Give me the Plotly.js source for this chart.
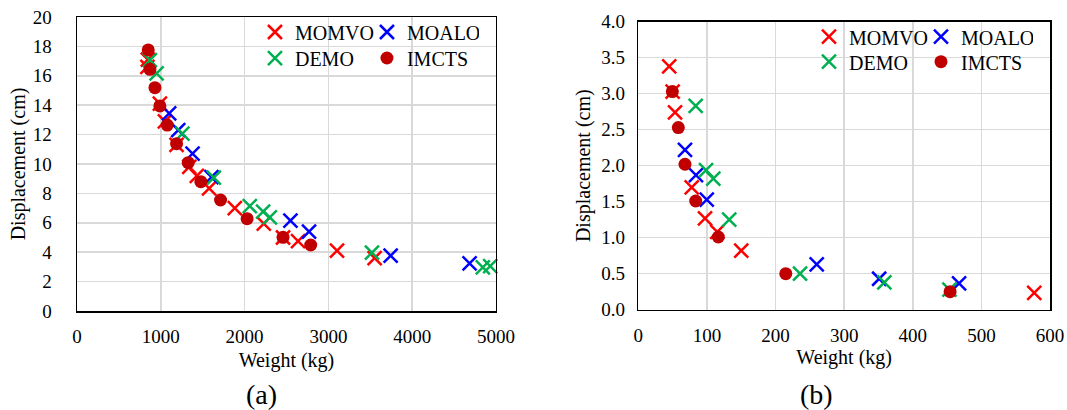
<!DOCTYPE html>
<html>
<head>
<meta charset="utf-8">
<script src="https://cdn.plot.ly/plotly-3.0.1.min.js"></script>
<style>html,body{margin:0;padding:0;background:#fff;}#chart{width:1067px;height:410px;}</style>
</head>
<body>
<div id="chart"></div>
<script>
// ---- Data: panel (a) ----
const momvoA_x = [845, 840, 989, 1049, 1188, 1340, 1430, 1577, 1883, 2229, 2459, 2638, 3103, 3552];
const momvoA_y = [17.1, 16.6, 14.1, 12.9, 11.3, 9.8, 9.2, 8.35, 7.0, 5.95, 5.0, 4.75, 4.1, 3.6];
const moaloA_x = [1100, 1208, 1379, 1605, 2547, 2769, 3743, 4685];
const moaloA_y = [13.45, 12.3, 10.7, 9.1, 6.14, 5.4, 3.76, 3.24];
const demoA_x = [870, 950, 1258, 1633, 2062, 2221, 2301, 3520, 4843, 4931];
const demoA_y = [17.07, 16.17, 12.06, 9.08, 7.14, 6.76, 6.37, 3.97, 2.97, 3.06];
const imctsA_x = [850, 870, 930, 989, 1077, 1188, 1327, 1478, 1713, 2030, 2459, 2789];
const imctsA_y = [17.76, 16.44, 15.19, 13.95, 12.65, 11.38, 10.09, 8.8, 7.55, 6.28, 5.01, 4.49];

// ---- Data: panel (b) ----
const momvoB_x = [45, 50, 53.5, 77.8, 97.2, 115, 150, 577];
const momvoB_y = [3.38, 3.03, 2.74, 1.70, 1.27, 1.08, 0.82, 0.235];
const moaloB_x = [68, 84, 99.7, 260, 351, 467.5];
const moaloB_y = [2.22, 1.87, 1.53, 0.63, 0.43, 0.365];
const demoB_x = [83.6, 98.7, 109.3, 132.5, 235.7, 358.6, 453.4];
const demoB_y = [2.83, 1.94, 1.82, 1.25, 0.50, 0.38, 0.28];
const imctsB_x = [49.6, 58.3, 68, 83.6, 116.6, 214.9, 454.4];
const imctsB_y = [3.03, 2.53, 2.02, 1.51, 1.01, 0.50, 0.25];

const seriesNames = ['MOMVO', 'MOALO', 'DEMO', 'IMCTS'];
const xTitle = 'Weight (kg)';
const yTitle = 'Displacement (cm)';
const panelLabels = ['(a)', '(b)'];

const FONT = 'Liberation Serif';
const colors = {MOMVO: '#FF0000', MOALO: '#0000FF', DEMO: '#00B050', IMCTS: '#C00000'};

function xTrace(name, xs, ys, xa, ya, legend) {
  return {
    type: 'scatter', mode: 'markers', name: name, x: xs, y: ys, xaxis: xa, yaxis: ya,
    legend: legend, cliponaxis: false, hoverinfo: 'skip',
    marker: {symbol: 'x-thin-open', size: 14, color: colors[name], line: {width: 2.5, color: colors[name]}}
  };
}
function dotTrace(name, xs, ys, xa, ya, legend) {
  return {
    type: 'scatter', mode: 'markers', name: name, x: xs, y: ys, xaxis: xa, yaxis: ya,
    legend: legend, cliponaxis: false, hoverinfo: 'skip',
    marker: {symbol: 'circle', size: 13, color: colors[name], line: {width: 0}}
  };
}

const data = [
  xTrace(seriesNames[0], momvoA_x, momvoA_y, 'x', 'y', 'legend'),
  xTrace(seriesNames[1], moaloA_x, moaloA_y, 'x', 'y', 'legend'),
  xTrace(seriesNames[2], demoA_x, demoA_y, 'x', 'y', 'legend2'),
  dotTrace(seriesNames[3], imctsA_x, imctsA_y, 'x', 'y', 'legend2'),
  xTrace(seriesNames[0], momvoB_x, momvoB_y, 'x2', 'y2', 'legend3'),
  xTrace(seriesNames[1], moaloB_x, moaloB_y, 'x2', 'y2', 'legend3'),
  xTrace(seriesNames[2], demoB_x, demoB_y, 'x2', 'y2', 'legend4'),
  dotTrace(seriesNames[3], imctsB_x, imctsB_y, 'x2', 'y2', 'legend4')
];

function tf() { return {family: FONT, size: 19, color: '#000'}; }
function titleFont() { return {family: FONT, size: 20, color: '#000'}; }

function axis(extra) {
  return Object.assign({
    showgrid: true, gridcolor: '#D9D9D9', gridwidth: 1.5,
    showline: true, mirror: true, linecolor: '#000', linewidth: 1.5,
    zeroline: false, ticks: '', tickfont: tf(), fixedrange: true
  }, extra);
}

function legendDef(x, y) {
  return {
    orientation: 'h', x: x, y: y, xanchor: 'left', yanchor: 'middle',
    bgcolor: 'rgba(0,0,0,0)', borderwidth: 0, entrywidth: 67, entrywidthmode: 'pixels',
    font: {family: FONT, size: 20, color: '#000'}, itemclick: false, itemdoubleclick: false
  };
}

const layout = {
  width: 1067, height: 410,
  margin: {l: 77, r: 17, t: 17, b: 99},
  paper_bgcolor: '#fff', plot_bgcolor: '#fff',
  font: {family: FONT, size: 19, color: '#000'},
  showlegend: true, hovermode: false,
  xaxis: axis({
    domain: [0, 0.4306], range: [0, 5000], tick0: 0, dtick: 1000, anchor: 'y',
    ticklabelstandoff: 8,
    title: {text: xTitle, font: titleFont(), standoff: 6}
  }),
  yaxis: axis({
    domain: [0, 1], range: [0, 20], tick0: 0, dtick: 2, anchor: 'x',
    ticklabelstandoff: 20,
    title: {text: yTitle, font: titleFont(), standoff: 1}
  }),
  xaxis2: axis({
    domain: [0.5769, 1], range: [0, 600], tick0: 0, dtick: 100, anchor: 'y2',
    ticklabelstandoff: 8,
    title: {text: xTitle, font: titleFont(), standoff: 1}
  }),
  yaxis2: axis({
    domain: [0.0044, 0.984], range: [0, 4], tick0: 0, dtick: 0.5, tickformat: '.1f', anchor: 'x2',
    ticklabelstandoff: 8,
    title: {text: yTitle, font: titleFont(), standoff: 5}
  }),
  legend: legendDef(0.1829, 0.949),
  legend2: legendDef(0.1829, 0.8605),
  legend3: legendDef(0.7523, 0.933),
  legend4: legendDef(0.7523, 0.848),
  annotations: [
    {text: panelLabels[0], xref: 'paper', yref: 'paper', x: 0.190, y: -0.2857, xanchor: 'center', yanchor: 'middle', showarrow: false, font: {family: FONT, size: 28, color: '#000'}},
    {text: panelLabels[1], xref: 'paper', yref: 'paper', x: 0.7605, y: -0.2857, xanchor: 'center', yanchor: 'middle', showarrow: false, font: {family: FONT, size: 28, color: '#000'}}
  ]
};

Plotly.newPlot('chart', data, layout, {displayModeBar: false, staticPlot: true});
</script>
</body>
</html>
